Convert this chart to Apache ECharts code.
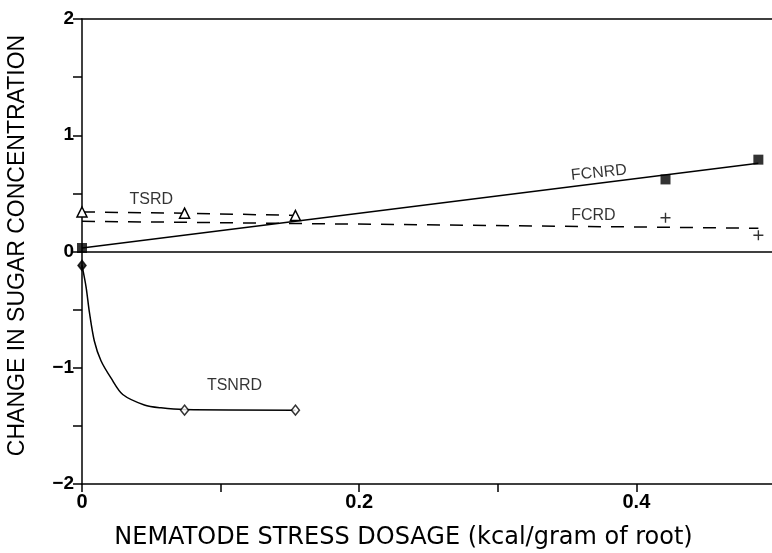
<!DOCTYPE html>
<html><head><meta charset="utf-8">
<script src="https://cdn.jsdelivr.net/npm/echarts@6/dist/echarts.min.js"></script>
<style>html,body{margin:0;padding:0;background:#fff}#c{width:772px;height:553px}</style>
</head><body><div id="c"></div>
<script>
// ---- data ----
const xTickLabels = ['0', '', '0.2', '', '0.4', ''];
const yTickLabels = {'2':'2','1':'1','0':'0','-1':'\u22121','-2':'\u22122'};

const fcnrdX = [0, 0.421, 0.488];
const fcnrdY = [0.03, 0.62, 0.79];
const fcnrdFitX = [0, 0.488];
const fcnrdFitY = [0.03, 0.76];

const tsrdX = [0, 0.074, 0.154];
const tsrdY = [0.34, 0.33, 0.31];

const fcrdX = [0.421, 0.488];
const fcrdY = [0.29, 0.14];
const fcrdFitX = [0, 0.488];
const fcrdFitY = [0.26, 0.20];

const tsnrdX = [0, 0.074, 0.154];
const tsnrdY = [-0.12, -1.365, -1.365];
const tsnrdCurveX = [0, 0.003, 0.0053, 0.0089, 0.0137, 0.021, 0.0294, 0.045, 0.057, 0.074, 0.154];
const tsnrdCurveY = [-0.12, -0.31, -0.52, -0.77, -0.94, -1.09, -1.23, -1.32, -1.345, -1.36, -1.365];

const labelNames = ['TSRD', 'FCNRD', 'FCRD', 'TSNRD'];
const labelX = [0.05, 0.373, 0.369, 0.11];
const labelY = [0.446, 0.677, 0.31, -1.157];
const labelRot = [0, 6, 0, 0];

const zip = (a, b) => a.map((v, i) => [v, b[i]]);
const FONT = '"Liberation Sans", Arial, sans-serif';
const TFONT = '"DejaVu Sans", sans-serif';
const LW = 1.5;

const plusPath = 'path://M4.3,0 L5.7,0 L5.7,4.3 L10,4.3 L10,5.7 L5.7,5.7 L5.7,10 L4.3,10 L4.3,5.7 L0,5.7 L0,4.3 L4.3,4.3 Z';

const chart = echarts.init(document.getElementById('c'), null, {renderer: 'canvas'});
chart.setOption({
  animation: false,
  backgroundColor: '#fff',
  grid: {left: 82, right: -3, top: 19, bottom: 69, containLabel: false, outerBoundsMode: 'none'},
  xAxis: [{
    type: 'value', min: 0, max: 0.5, interval: 0.1,
    axisLine: {show: true, onZero: false, lineStyle: {color: '#000', width: LW}},
    axisTick: {show: true, inside: false, length: 8, lineStyle: {color: '#000', width: LW}},
    splitLine: {show: false},
    axisLabel: {
      color: '#000', fontFamily: FONT, fontWeight: 'bold', fontSize: 20, margin: 8,
      formatter: (v) => xTickLabels[Math.round(v * 10)] || ''
    },
    name: 'NEMATODE STRESS DOSAGE (kcal/gram of root)',
    nameLocation: 'middle', nameGap: 42,
    nameTextStyle: {color: '#000', fontFamily: TFONT, fontSize: 24, padding: [0, 50, 0, 0]}
  }, {
    type: 'value', position: 'top', min: 0, max: 0.5,
    axisLine: {show: true, onZero: false, lineStyle: {color: '#000', width: LW}},
    axisTick: {show: false}, axisLabel: {show: false}, splitLine: {show: false}
  }],
  yAxis: {
    type: 'value', min: -2, max: 2, interval: 0.5,
    axisLine: {show: true, onZero: false, lineStyle: {color: '#000', width: LW}},
    axisTick: {show: true, inside: false, length: 9, lineStyle: {color: '#000', width: LW}},
    splitLine: {show: false},
    axisLabel: {
      color: '#000', fontFamily: FONT, fontWeight: 'bold', fontSize: 19, margin: 8,
      formatter: (v) => yTickLabels[String(v)] || ''
    },
    name: 'CHANGE IN SUGAR CONCENTRATION',
    nameLocation: 'middle', nameGap: 53,
    nameTextStyle: {color: '#000', fontFamily: FONT, fontSize: 23, padding: [0, 0, 0, 12]}
  },
  series: [
    {
      type: 'line', data: zip(fcnrdFitX, fcnrdFitY), symbol: 'none',
      lineStyle: {color: '#000', width: LW}, z: 3,
      markLine: {
        silent: true, symbol: 'none', label: {show: false},
        lineStyle: {color: '#000', width: LW, type: 'solid'},
        data: [{yAxis: 0}]
      }
    },
    {
      type: 'scatter', data: zip(fcnrdX, fcnrdY), symbol: 'rect', symbolSize: 10,
      itemStyle: {color: '#000'}, z: 5
    },
    {
      type: 'line', data: zip(tsrdX, tsrdY), symbol: 'triangle', symbolSize: 10,
      showSymbol: true,
      itemStyle: {color: '#fff', borderColor: '#000', borderWidth: 1.5},
      lineStyle: {color: '#000', width: LW, type: [13, 10]}, z: 4
    },
    {
      type: 'line', data: zip(fcrdFitX, fcrdFitY), symbol: 'none',
      lineStyle: {color: '#000', width: LW, type: [13, 10]}, z: 3
    },
    {
      type: 'scatter', data: zip(fcrdX, fcrdY), symbol: plusPath, symbolSize: 10,
      itemStyle: {color: '#000'}, z: 5
    },
    {
      type: 'line', data: zip(tsnrdCurveX, tsnrdCurveY), symbol: 'none', smooth: 0.3,
      lineStyle: {color: '#000', width: LW}, z: 3
    },
    {
      type: 'scatter', data: zip(tsnrdX, tsnrdY).map((p, i) => ({
        value: p,
        itemStyle: i === 0 ? {color: '#000', borderColor: '#000', borderWidth: 1.5}
                           : {color: '#fff', borderColor: '#000', borderWidth: 1.5}
      })),
      symbol: 'diamond', symbolSize: [8, 10], z: 5
    },
    {
      type: 'scatter', symbolSize: 0, silent: true, z: 6,
      data: labelNames.map((n, i) => ({
        name: n, value: [labelX[i], labelY[i]],
        label: {rotate: labelRot[i]}
      })),
      label: {
        show: true, position: 'inside', formatter: (p) => p.name,
        color: '#000', fontFamily: FONT, fontSize: 16
      }
    }
  ]
});
</script></body></html>
